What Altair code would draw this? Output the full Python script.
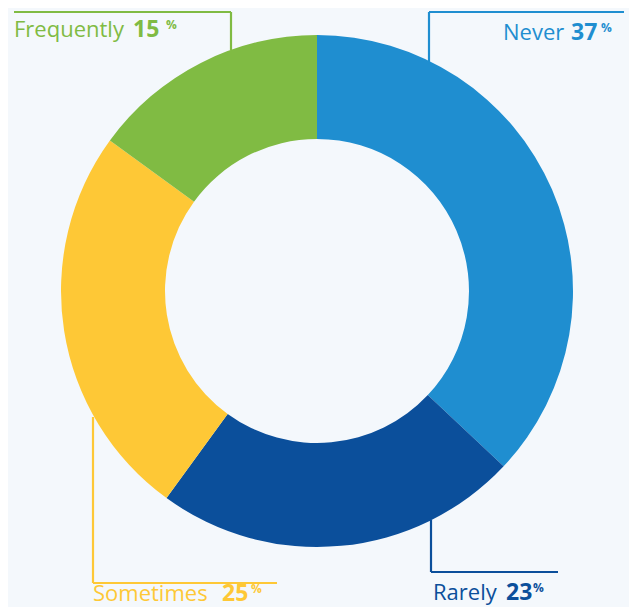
import altair as alt
import pandas as pd

# ---- data ----
categories = ["Never", "Rarely", "Sometimes", "Frequently"]
values = [37, 23, 25, 15]
colors = ["#1F8ED0", "#0B4F9B", "#FEC836", "#80BB43"]
text_colors = ["#2189CC", "#1B4C8E", "#F5C445", "#7CB64A"]

# ---- layout (image pixels) ----
OFF = 8
W, H = 621, 599
CX, CY = 317, 291
R_OUT, R_IN = 256, 152
FONT = "Open Sans"
BG = "#F4F8FC"

# word x, word baseline, number x, pct x, pct baseline
label_pos = {
    "Never": (503, 40, 571, 601, 32),
    "Rarely": (433, 600, 506, 533, 592),
    "Sometimes": (93, 601, 222, 251, 593),
    "Frequently": (14, 37, 133, 166, 29),
}
leader_pos = {
    "Never": [(429, 12, 624, 12), (429, 12, 429, 62)],
    "Rarely": [(431, 520, 431, 572), (431, 572, 558, 572)],
    "Sometimes": [(93, 417, 93, 583), (93, 583, 277, 583)],
    "Frequently": [(14, 12, 231, 12), (231, 12, 231, 50)],
}

slices = pd.DataFrame({"cat": categories, "value": values, "idx": range(len(categories))})

color_scale = alt.Scale(domain=categories, range=colors)
text_scale = alt.Scale(domain=categories, range=text_colors)

donut = alt.Chart(slices).mark_arc(outerRadius=R_OUT, innerRadius=R_IN).encode(
    theta=alt.Theta("value:Q", stack=True),
    order=alt.Order("idx:Q"),
    color=alt.Color("cat:N", scale=color_scale, legend=None),
    x=alt.value(CX - OFF),
    y=alt.value(CY - OFF),
)

rows = []
for c in categories:
    for (x1, y1, x2, y2) in leader_pos[c]:
        rows.append({"cat": c, "x": x1 - OFF, "y": y1 - OFF, "x2": x2 - OFF, "y2": y2 - OFF})
lines_df = pd.DataFrame(rows)
lines = alt.Chart(lines_df).mark_rule(strokeWidth=2.2).encode(
    x=alt.X("x:Q", scale=None, axis=None),
    y=alt.Y("y:Q", scale=None, axis=None),
    x2="x2:Q",
    y2="y2:Q",
    color=alt.Color("cat:N", scale=text_scale, legend=None),
)

words, nums, pcts = [], [], []
for c, v in zip(categories, values):
    wx, wy, nx, px, py = label_pos[c]
    words.append({"cat": c, "t": c, "x": wx - OFF, "y": wy - OFF})
    nums.append({"cat": c, "t": str(v), "x": nx - OFF, "y": wy - OFF})
    pcts.append({"cat": c, "t": "%", "x": px - OFF, "y": py - OFF})


def text_layer(rows, size, weight):
    return alt.Chart(pd.DataFrame(rows)).mark_text(
        align="left", baseline="alphabetic", font=FONT, fontSize=size, fontWeight=weight
    ).encode(
        x=alt.X("x:Q", scale=None, axis=None),
        y=alt.Y("y:Q", scale=None, axis=None),
        text="t:N",
        color=alt.Color("cat:N", scale=text_scale, legend=None),
    )


chart = alt.layer(
    donut,
    lines,
    text_layer(words, 22, "normal"),
    text_layer(nums, 23, "bold"),
    text_layer(pcts, 12, "bold"),
).properties(
    width=W, height=H, padding=0, autosize=alt.AutoSizeParams(type="none"), background=BG
).configure_view(stroke=None)

chart.save("out.html", embed_options={"renderer": "svg", "actions": False})
